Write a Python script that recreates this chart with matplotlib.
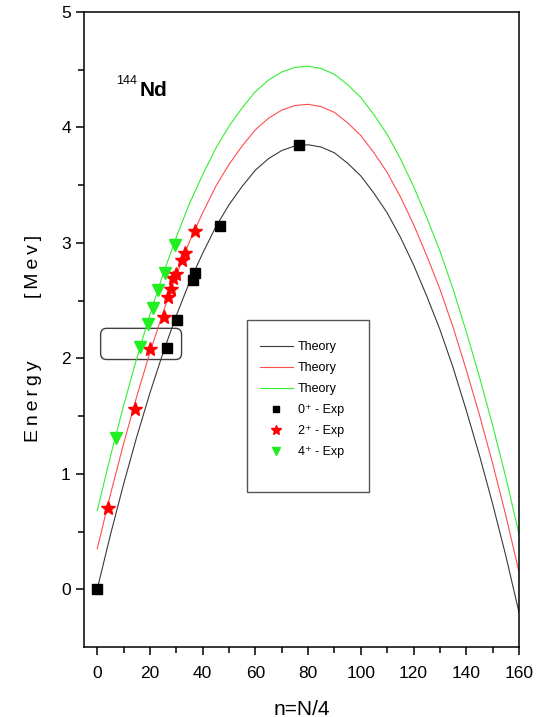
#!/usr/bin/env python3
"""Nd-144 energy vs n = N/4, theory curves and experimental levels."""

import matplotlib.pyplot as plt
from matplotlib.patches import FancyBboxPatch, Rectangle

plt.rcParams["font.family"] = ["Liberation Sans", "DejaVu Sans"]

# theory curves, every 5 units of n
n_theory = [0, 5, 10, 15, 20, 25, 30, 35, 40, 45, 50, 55, 60, 65, 70, 75, 80,
            85, 90, 95, 100, 105, 110, 115, 120, 125, 130, 135, 140, 145, 150,
            155, 160]
e_theory_0 = [0.00, 0.47, 0.91, 1.32, 1.70, 2.05, 2.37, 2.66, 2.91, 3.14, 3.33,
              3.49, 3.63, 3.73, 3.80, 3.84, 3.85, 3.83, 3.78, 3.69, 3.58, 3.43,
              3.26, 3.05, 2.81, 2.54, 2.25, 1.92, 1.55, 1.16, 0.74, 0.29, -0.20]
e_theory_2 = [0.35, 0.82, 1.26, 1.67, 2.05, 2.40, 2.72, 3.01, 3.26, 3.49, 3.68,
              3.84, 3.98, 4.08, 4.15, 4.19, 4.20, 4.18, 4.13, 4.04, 3.93, 3.78,
              3.61, 3.40, 3.16, 2.89, 2.60, 2.27, 1.90, 1.51, 1.09, 0.64, 0.15]
e_theory_4 = [0.68, 1.15, 1.59, 2.00, 2.38, 2.73, 3.05, 3.34, 3.59, 3.82, 4.01,
              4.17, 4.31, 4.41, 4.48, 4.52, 4.53, 4.51, 4.46, 4.37, 4.26, 4.11,
              3.94, 3.73, 3.49, 3.22, 2.93, 2.60, 2.23, 1.84, 1.42, 0.97, 0.48]

# experimental levels
n_exp_0 = [0.0, 26.3, 30.1, 36.3, 37.2, 46.5, 76.6]
e_exp_0 = [0.00, 2.09, 2.33, 2.68, 2.74, 3.15, 3.85]
n_exp_2 = [4.1, 14.2, 19.9, 25.2, 26.9, 27.9, 28.8, 29.8, 32.0, 33.2, 37.0]
e_exp_2 = [0.70, 1.56, 2.08, 2.36, 2.53, 2.60, 2.70, 2.73, 2.85, 2.91, 3.10]
n_exp_4 = [7.3, 16.1, 19.3, 21.0, 23.1, 25.6, 29.4]
e_exp_4 = [1.31, 2.10, 2.30, 2.44, 2.59, 2.74, 2.98]


def plot(ax):
    ax.plot(n_theory, e_theory_0, color="#3a3a3a", lw=0.8, label="Theory")
    ax.plot(n_theory, e_theory_2, color="#ff4d4d", lw=0.8, label="Theory")
    ax.plot(n_theory, e_theory_4, color="#33ee33", lw=0.8, label="Theory")
    ax.plot(n_exp_0, e_exp_0, ls="none", marker="s", ms=6.5, color="black",
            label="0\u207a - Exp")
    ax.plot(n_exp_2, e_exp_2, ls="none", marker="*", ms=10, color="red",
            label="2\u207a - Exp")
    ax.plot(n_exp_4, e_exp_4, ls="none", marker="v", ms=8, color="#22ee22",
            label="4\u207a - Exp")

    # rounded box around the lowest levels
    px_aspect = (1 / 115.4) / (1 / 2.634)
    box = FancyBboxPatch((1.3, 1.99), 30.7, 0.27,
                         boxstyle="round,pad=0,rounding_size=2.3",
                         mutation_aspect=px_aspect, fill=False,
                         ec="#404040", lw=1.0)
    ax.add_patch(box)

    ax.text(16.0, 4.32, "Nd", fontsize=15, fontweight="bold", va="center")
    ax.text(7.0, 4.40, "144", fontsize=9, va="center")

    ax.set_xlim(-5, 160)
    ax.set_ylim(-0.5, 5)
    ax.set_xticks(range(0, 161, 20))
    ax.set_xticks(range(0, 161, 10), minor=True)
    ax.set_yticks(range(0, 6))
    ax.set_yticks([0.5, 1.5, 2.5, 3.5, 4.5], minor=True)
    ax.tick_params(direction="out", length=6, width=1.1, labelsize=12.5,
                   top=False, right=False)
    ax.tick_params(axis="x", pad=8)
    ax.tick_params(which="minor", direction="out", length=4, width=1.1)
    for sp in ax.spines.values():
        sp.set_linewidth(1.1)

    ax.set_xlabel("n=N/4", fontsize=15, labelpad=13)
    # the y label is spread out in two pieces, letters spaced apart
    ax.text(-0.117, 0.387, "\u2009".join("Energy"), transform=ax.transAxes,
            rotation=90, fontsize=14, ha="center", va="center")
    ax.text(-0.117, 0.600, "\u2009".join("[Mev]"), transform=ax.transAxes,
            rotation=90, fontsize=14, ha="center", va="center")

    # legend frame drawn separately to get its padding right
    ax.add_patch(Rectangle((0.375, 0.244), 0.28, 0.271, transform=ax.transAxes,
                           fill=False, ec="#555555", lw=1.0, zorder=4))
    ax.legend(loc="upper left", bbox_to_anchor=(0.405, 0.482),
              fontsize=9, frameon=False, handlelength=2.6,
              labelspacing=0.72, borderpad=0, handletextpad=0.4,
              borderaxespad=0, markerscale=0.75)


def main():
    fig = plt.figure(figsize=(5.47, 7.17), dpi=100)
    ax = fig.add_axes([0.1536, 0.0976, 0.7952, 0.8857])
    plot(ax)
    fig.savefig("out.png", dpi=100)


if __name__ == "__main__":
    main()
